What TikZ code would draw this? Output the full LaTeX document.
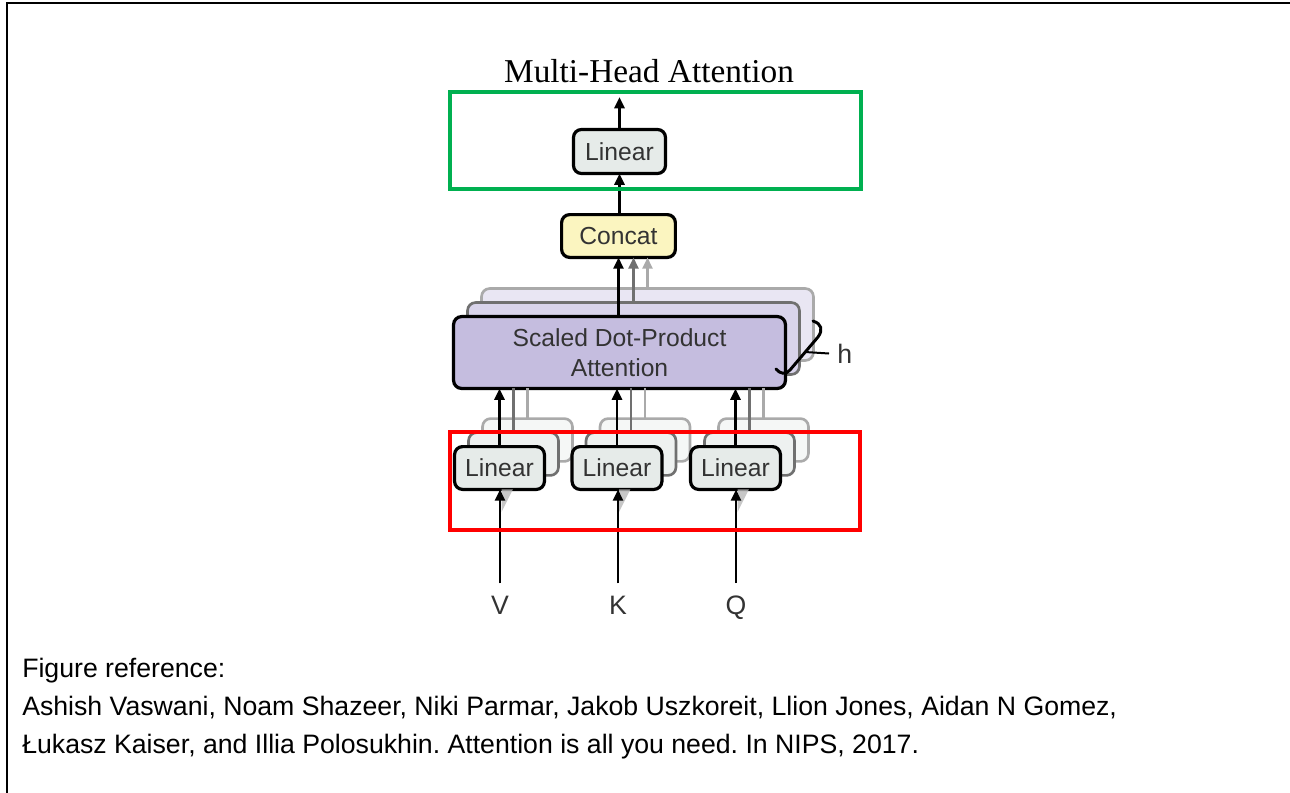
\documentclass[tikz,border=0pt]{standalone}
\usepackage{fontspec}
\setmainfont{Liberation Sans}
\newfontfamily\titlefont{Liberation Serif}
\usetikzlibrary{arrows.meta}
\frenchspacing
\definecolor{linfill}{HTML}{E6EBE9}
\definecolor{linfillb}{HTML}{EEF1F0}
\definecolor{linfillc}{HTML}{F5F7F6}
\definecolor{catfill}{HTML}{FBF5C0}
\definecolor{sdpfill}{HTML}{C5BDDF}
\definecolor{sdpfillb}{HTML}{D9D4EB}
\definecolor{sdpfillc}{HTML}{E9E6F3}
\definecolor{boxtext}{HTML}{333333}
\definecolor{frgreen}{HTML}{00B050}
\definecolor{frred}{HTML}{FF0000}
\definecolor{midgray}{HTML}{707070}
\definecolor{ltgray}{HTML}{AAAAAA}
\begin{document}
\begin{tikzpicture}[x=0.75pt,y=-0.75pt,
  box/.style={draw=black, line width=2.4pt, rounded corners=6pt, inner sep=0pt, outer sep=0pt,
    text=boxtext, font=\fontsize{18.5}{22.5}\selectfont, align=center},
  backbox/.style={draw=#1, line width=2pt, rounded corners=6pt, inner sep=0pt, outer sep=0pt},
  linsize/.style={minimum width=67.4pt, minimum height=32.1pt},
  sdpsize/.style={minimum width=248.9pt, minimum height=53.9pt},
  arr/.style={line width=2.2pt, -{Triangle[length=8.5pt,width=7.5pt]}},
  garr/.style={line width=2.2pt, draw=#1, -{Triangle[length=8.5pt,width=7.5pt]}},
  gline/.style={line width=2.2pt, draw=#1},
  lbl/.style={font=\fontsize{20}{22}\selectfont, text=boxtext, anchor=base, inner xsep=0pt, inner ysep=9pt},
  captext/.style={font=\fontsize{20}{24}\selectfont, anchor=base west, inner sep=0pt},
  framestyle/.style={line width=1.5pt}
]
\useasboundingbox (0,0) rectangle (1290,793);
% outer frame
\draw[framestyle] (7,793) -- (7,3) -- (1290,3);

% title
\node[font=\titlefont\fontsize{25}{30}\selectfont, anchor=base, inner sep=0pt] (title) at (649,82) {Multi-Head Attention};

% ---- back layers of scaled dot-product attention
\node[backbox=ltgray, fill=sdpfillc, sdpsize] (sdpc) at (647.5,324.5) {};
\node[backbox=midgray, fill=sdpfillb, sdpsize] (sdpb) at (633.5,338.5) {};

% ---- back layers of linear boxes
\foreach \n/\x in {V/499.5, K/617, Q/735.5}{
  \node[backbox=ltgray, fill=linfillc, linsize] (lin\n c) at (\x+28,440) {};
}
\foreach \n/\x in {V/499.5, K/617, Q/735.5}{
  \node[backbox=midgray, fill=linfillb, linsize] (lin\n b) at (\x+14,454) {};
}

% concat
\node[box, fill=catfill, minimum width=85.3pt, minimum height=32.1pt] (cat) at (618.5,236) {Concat};

% back arrows to concat
\draw[garr=ltgray] (sdpc.north) -- (sdpc.north |- cat.south);
\draw[garr=midgray] (sdpb.north) -- (sdpb.north |- cat.south);

% main SDPA
\node[box, fill=sdpfill, sdpsize] (sdp) at (619.5,352.5) {Scaled Dot-Product\\Attention};

% back lines from linear layers
\foreach \n in {V,K,Q}{
  \draw[gline=ltgray] (lin\n c.north) -- (lin\n c.north |- sdp.south);
  \draw[gline=midgray] (lin\n b.north) -- (lin\n b.north |- sdp.south);
}

% main linear boxes
\node[box, fill=linfill, linsize] (linV) at (499.5,468) {Linear};
\node[box, fill=linfill, linsize] (linK) at (617,468) {Linear};
\node[box, fill=linfill, linsize] (linQ) at (735.5,468) {Linear};

% top linear
\node[box, fill=linfill, minimum width=69pt, minimum height=33pt] (lin) at (619.5,151.5) {Linear};
\coordinate (out) at (619.5,97);

% input labels
\node[lbl] (V) at (500,614) {V};
\node[lbl] (K) at (618,614) {K};
\node[lbl] (Q) at (736,614) {Q};

% shadow wedges below linear boxes
\foreach \n in {V,K,Q}{
  \fill[gray!55, opacity=0.8] ([xshift=1.5pt]lin\n.south) -- ([xshift=10pt]lin\n.south) -- ([xshift=1.5pt,yshift=-17pt]lin\n.south) -- cycle;
}

% main arrows
\draw[arr] (V.north) -- (V.north |- linV.south);
\draw[arr] (K.north) -- (K.north |- linK.south);
\draw[arr] (Q.north) -- (Q.north |- linQ.south);
\draw[arr] (linV.north) -- (linV.north |- sdp.south);
\draw[arr] (linK.north) -- (linK.north |- sdp.south);
\draw[arr] (linQ.north) -- (linQ.north |- sdp.south);
\draw[arr] (sdp.north -| cat.south) -- (cat.south);
\draw[arr] (cat.north) -- (cat.north -| lin.south) -- (lin.south);
\draw[arr] (lin.north) -- (out);

% h bracket
\draw[line width=2.2pt, line cap=round] (813,321) .. controls (822,324) and (823,330) .. (818,337) -- (790,370) .. controls (786,375) and (780,374) .. (776,369);
\coordinate (hb) at (805,352);
\node[font=\fontsize{20}{22}\selectfont, text=boxtext, anchor=west, inner sep=0pt] (h) at (837,354) {h};
\draw[line width=1.5pt, shorten >=6pt] (hb) -- (h.west);

% highlight frames
\draw[frgreen, line width=2.3pt] (450,92) rectangle (861,189);
\draw[frred, line width=2.3pt] (450,432) rectangle (860,530);

% caption
\node[captext] (c1) at (22,677) {Figure reference:};
\node[captext] (c2) at (22,715) {Ashish Vaswani, Noam Shazeer, Niki Parmar, Jakob Uszkoreit, Llion Jones, Aidan N Gomez,};
\node[captext] (c3) at (22,753) {Łukasz Kaiser, and Illia Polosukhin. Attention is all you need. In NIPS, 2017.};
\end{tikzpicture}
\end{document}
